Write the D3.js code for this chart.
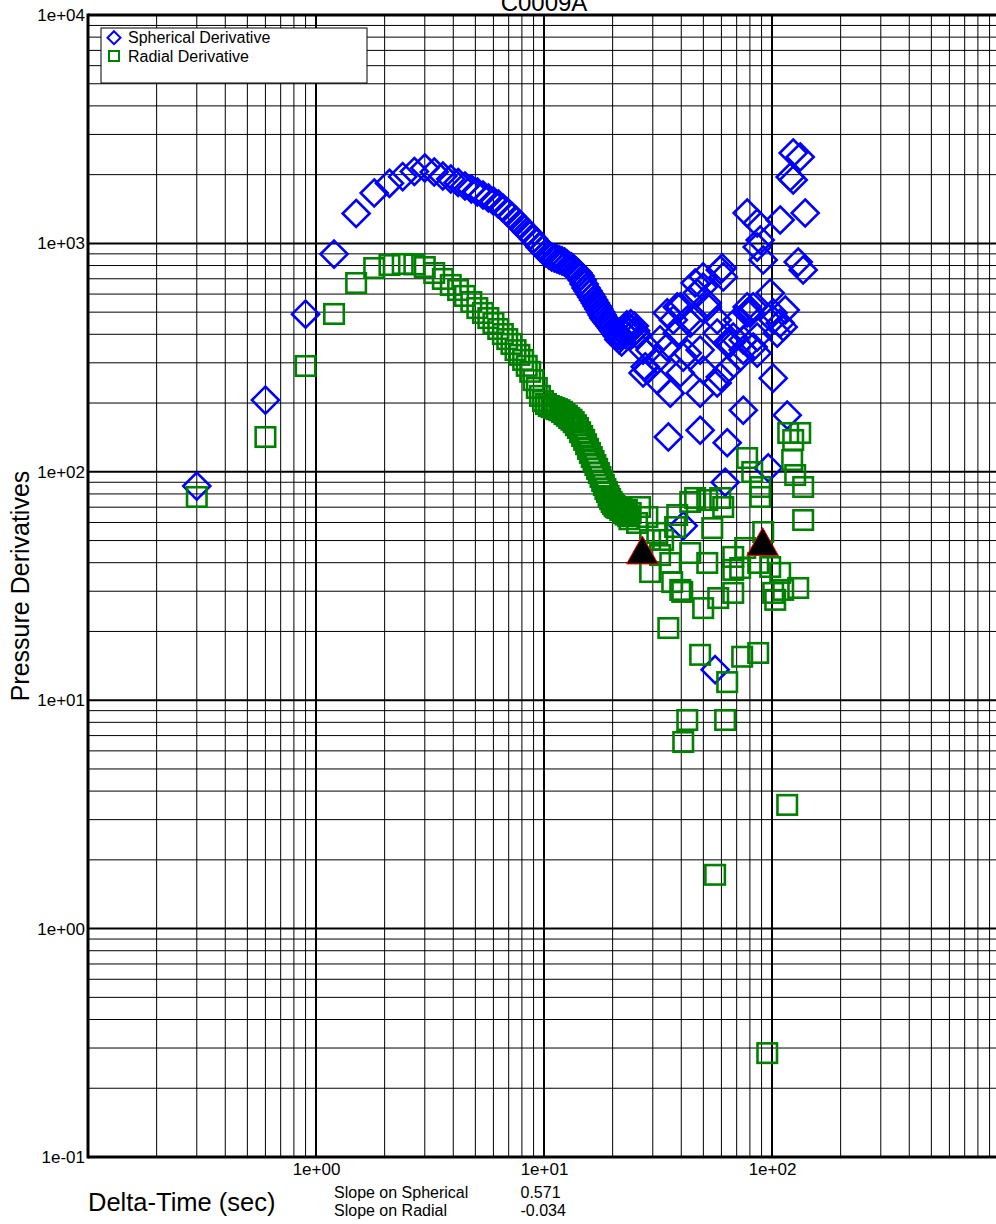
<!DOCTYPE html>
<html><head><meta charset="utf-8">
<script src="https://cdn.jsdelivr.net/npm/d3@7"></script>
<style>body{margin:0;background:#fff}svg{display:block;font-family:"Liberation Sans",Arial,sans-serif}</style>
</head><body><svg id="c" width="996" height="1224"></svg>
<script>
// ---- data ----
const sphericalTime = [0.3,0.6,0.9,1.2,1.5,1.8,2.1,2.4,2.7,3.0,3.3,3.6,3.9,4.2,4.5,4.8,5.1,5.4,5.7,6.0,6.3,6.6,6.9,7.2,7.5,7.8,8.1,8.4,8.7,9.0,9.3,9.6,9.9,10.2,10.5,10.8,11.1,11.4,11.7,12.0,12.3,12.6,12.9,13.2,13.5,13.8,14.1,14.4,14.7,15.0,15.3,15.6,15.9,16.2,16.5,16.8,17.1,17.4,17.7,18.0,18.3,18.6,18.9,19.2,19.5,19.8,20.1,20.4,20.7,21.0,21.3,21.6,21.9,22.2,22.5,22.8,23.1,23.4,23.7,24.0,24.3,24.6,24.9,25.2,25.5,
 27.2,28.4,31.4,32.3,31.4,34.7,38.4,36.9,34.7,38.4,42.5,47.0,46.0,49.9,49.9,52.0,57.5,59.3,61.1,48.4,42.5,40.8,48.4,35.8,49.9,57.5,59.3,63.6,72.5,82.7,86.1,74.8,65.6,67.6,86.1,74.8,57.5,70.4,77.8,82.7,98.2,101.2,108.6,105.4,114.3,101.2,74.8,116.6,35.1,48.4,63.6,96.3,62.3,40.8,56.3,77.8,86.1,88.8,91.5,108.6,139.8,130.3,137.0,123.9,133.0,123.9,120.2,29.2,27.8,39.6,43.8,52.0,60.5,80.2,77.8,101.2,112.0,39.6,27.2,63.6,86.1];
const sphericalDeriv = [86.6,206,490,898,1352,1662,1833,1960,2065,2138,2054,1973,1914,1848,1784,1731,1679,1629,1580,1533,1488,1429,1372,1318,1266,1216,1168,1122,1088,1045,1004,964,935,908,890,872,863,855,846,838,829,813,796,788,773,757,742,720,692,664,638,619,600,583,565,548,532,516,501,486,471,462,453,444,435,426,418,409,401,393,380,395,370,410,425,400,440,415,430,445,420,405,435,415,400,
 341,279,252,378,309,352,405,462,496,527,462,606,671,644,713,527,462,765,713,341,331,318,221,221,279,245,260,279,318,352,331,341,366,389,389,378,405,462,496,527,606,496,448,405,511,257,186,177,142,152,134,104,90,58,13.6,1359,1228,1035,846,1266,1359,829,765,2488,2389,1895,1953,341,288,527,448,548,781,496,527,462,431,271,271,366,964];
const radialTime = [0.3,0.6,0.9,1.2,1.5,1.8,2.1,2.4,2.7,3.0,3.3,3.6,3.9,4.2,4.5,4.8,5.1,5.4,5.7,6.0,6.3,6.6,6.9,7.2,7.5,7.8,8.1,8.4,8.7,9.0,9.3,9.6,9.9,10.2,10.5,10.8,11.1,11.4,11.7,12.0,12.3,12.6,12.9,13.2,13.5,13.8,14.1,14.4,14.7,15.0,15.3,15.6,15.9,16.2,16.5,16.8,17.1,17.4,17.7,18.0,18.3,18.6,18.9,19.2,19.5,19.8,20.1,20.4,20.7,21.0,21.3,21.6,21.9,22.2,22.5,22.8,23.1,23.4,23.7,24.0,
 26.4,28.4,25.6,31.4,33.3,32.3,29.2,35.8,36.5,39.6,35.1,38.4,37.6,43.8,46.0,52.0,59.3,61.1,54.7,43.8,52.0,67.6,76.3,87.0,67.6,72.5,98.2,108.6,40.4,49.9,58.1,67.6,101.2,130.3,103.3,48.4,74.0,87.0,63.6,42.5,62.3,40.8,116.6,56.3,95.3,77.8,81.9,88.8,88.8,91.5,117.8,133.0,123.9,122.6,126.4,137.0,137.0,112.0,29.2];
const radialDeriv = [77.6,142,290.6,491,671,780,804,813,809,788,742,699,658,625,589,554,521,496,471,448,422,401,381,363,341,325,309,291,274,252,233,215,204,198,194,192,190,188,186,183,179,176,172,169,165,160,155.5,149,143.5,138,132,126,121,116,111.5,107,103,98.8,94.9,91.1,87.6,84.1,81.6,78.4,76.0,73.8,72.3,70.8,70.1,69.4,70,68,69,66,67,65,68,64,62,66,
 70.1,63.4,59.7,54.0,50.3,43.2,36.4,39.9,32.9,30.4,20.7,64.7,57.3,73.8,76.8,75.2,76.8,70.1,56.7,44.1,39.9,42.4,46.4,39.9,37.2,37.9,38.3,36.1,29.8,25.3,28.0,29.5,29.5,31.0,27.5,15.8,15.5,16.1,12.0,8.19,8.19,6.56,3.48,1.72,0.285,114.9,99.8,85.8,77.6,54.5,147.9,147.9,137.8,112.6,96.8,85.8,61.5,30.4,50.3];
const slopeMarkTime = [27, 91];
const slopeMarkDeriv = [45.5, 49.5];
const xTickValues = [1, 10, 100];
const xTickLabels = ["1e+00", "1e+01", "1e+02"];
const yTickValues = [0.1, 1, 10, 100, 1000, 10000];
const yTickLabels = ["1e-01", "1e+00", "1e+01", "1e+02", "1e+03", "1e+04"];
const seriesNames = ["Spherical Derivative", "Radial Derivative"];
const slopeNames = ["Slope on Spherical", "Slope on Radial"];
const slopeValues = ["0.571", "-0.034"];
const chartTitle = "C0009A";

// ---- layout ----
const L = 88, T = 15, R = 1000, B = 1157;
const svg = d3.select("#c");
const x = d3.scaleLog().domain([0.1, 1000]).range([L, R]);
const y = d3.scaleLog().domain([0.1, 10000]).range([B, T]);
const isMajor = v => Math.abs(Math.log10(v) - Math.round(Math.log10(v))) < 1e-9;

// grid
const g = svg.append("g");
g.selectAll("line.vx").data(x.ticks()).join("line")
  .attr("x1", d => x(d)).attr("x2", d => x(d)).attr("y1", T).attr("y2", B)
  .attr("stroke", "#000").attr("stroke-width", d => isMajor(d) ? 2 : 1);
g.selectAll("line.hy").data(y.ticks()).join("line")
  .attr("y1", d => y(d)).attr("y2", d => y(d)).attr("x1", L).attr("x2", R)
  .attr("stroke", "#000").attr("stroke-width", d => isMajor(d) ? 2 : 1);

// frame
svg.append("line").attr("x1", L).attr("x2", L).attr("y1", T - 1.5).attr("y2", B + 1.5).attr("stroke", "#000").attr("stroke-width", 3);
svg.append("line").attr("x1", L).attr("x2", R).attr("y1", T).attr("y2", T).attr("stroke", "#000").attr("stroke-width", 3);
svg.append("line").attr("x1", L).attr("x2", R).attr("y1", B).attr("y2", B).attr("stroke", "#000").attr("stroke-width", 3);
svg.append("line").attr("x1", R).attr("x2", R).attr("y1", T).attr("y2", B).attr("stroke", "#000").attr("stroke-width", 3);

// axes labels via d3 axes
const xAxis = d3.axisBottom(x).tickValues(xTickValues).tickFormat((d, i) => xTickLabels[i]).tickSize(0).tickPadding(6);
const xa = svg.append("g").attr("transform", `translate(0,${B})`).call(xAxis);
xa.select(".domain").remove();
xa.selectAll("text").attr("font-size", 17).attr("fill", "#000").attr("font-family", "Liberation Sans, Arial, sans-serif");

const yAxis = d3.axisLeft(y).tickValues(yTickValues).tickFormat((d, i) => yTickLabels[i]).tickSize(0).tickPadding(3);
const ya = svg.append("g").attr("transform", `translate(${L},0)`).call(yAxis);
ya.select(".domain").remove();
ya.selectAll("text").attr("font-size", 17).attr("fill", "#000").attr("font-family", "Liberation Sans, Arial, sans-serif");

// markers
const h = 13.5, s = 19.5;
const diamond = `M0,${-h}L${h},0L0,${h}L${-h},0Z`;
svg.append("g").selectAll("path").data(d3.range(sphericalTime.length)).join("path")
  .attr("d", diamond)
  .attr("transform", i => `translate(${x(sphericalTime[i])},${y(sphericalDeriv[i])})`)
  .attr("fill", "none").attr("stroke", "#0000ff").attr("stroke-width", 2.6);
svg.append("g").selectAll("rect").data(d3.range(radialTime.length)).join("rect")
  .attr("x", i => x(radialTime[i]) - s / 2).attr("y", i => y(radialDeriv[i]) - s / 2)
  .attr("width", s).attr("height", s)
  .attr("fill", "none").attr("stroke", "#008000").attr("stroke-width", 2.6);
svg.append("g").selectAll("path").data(d3.range(slopeMarkTime.length)).join("path")
  .attr("d", "M0,-14L15.8,14L-15.8,14Z")
  .attr("transform", i => `translate(${x(slopeMarkTime[i])},${y(slopeMarkDeriv[i])})`)
  .attr("fill", "#000").attr("stroke", "#ff0000").attr("stroke-width", 1);

// legend
const lg = svg.append("g");
lg.append("rect").attr("x", 101).attr("y", 28).attr("width", 266).attr("height", 55).attr("fill", "#fff").attr("stroke", "#000").attr("stroke-width", 1);
lg.append("path").attr("d", "M0,-6.5L6.5,0L0,6.5L-6.5,0Z").attr("transform", "translate(114,37.7)").attr("fill", "none").attr("stroke", "#0000ff").attr("stroke-width", 2);
lg.append("rect").attr("x", 109).attr("y", 51).attr("width", 10).attr("height", 10).attr("fill", "none").attr("stroke", "#008000").attr("stroke-width", 2);
lg.selectAll("text").data(seriesNames).join("text")
  .attr("x", 128).attr("y", (d, i) => 43.3 + i * 18.4).attr("font-size", 16).text(d => d);

// titles
svg.append("text").attr("x", (L + R) / 2).attr("y", 11).attr("text-anchor", "middle").attr("font-size", 24).text(chartTitle);
svg.append("text").attr("transform", "translate(29,586) rotate(-90)").attr("text-anchor", "middle").attr("font-size", 25).text("Pressure Derivatives");
svg.append("text").attr("x", 88).attr("y", 1211).attr("font-size", 25.5).text("Delta-Time (sec)");
svg.append("g").selectAll("text").data(slopeNames).join("text")
  .attr("x", 334).attr("y", (d, i) => 1198 + i * 18).attr("font-size", 16).text(d => d);
svg.append("g").selectAll("text").data(slopeValues).join("text")
  .attr("x", 520.5).attr("y", (d, i) => 1198 + i * 18).attr("font-size", 16).text(d => d);
</script></body></html>
